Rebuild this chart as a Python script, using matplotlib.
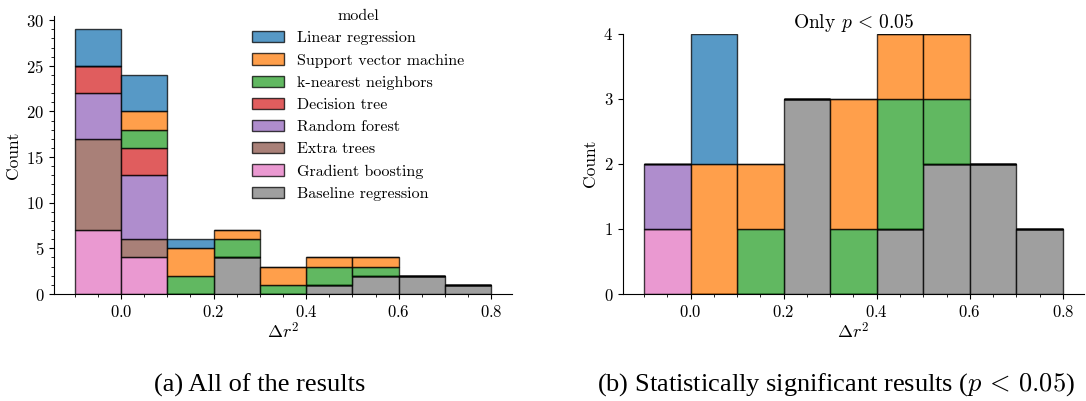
import numpy as np
import matplotlib
matplotlib.use("Agg")
import matplotlib.pyplot as plt
from matplotlib.ticker import MultipleLocator
from matplotlib.patches import Patch

plt.rcParams['font.family'] = ['cmr10', 'DejaVu Serif']
plt.rcParams['mathtext.fontset'] = 'cm'
plt.rcParams['axes.unicode_minus'] = False
plt.rcParams['axes.formatter.use_mathtext'] = True

# bins of delta r^2 (width 0.1)
bin_edges = [-0.1, 0.0, 0.1, 0.2, 0.3, 0.4, 0.5, 0.6, 0.7, 0.8]

models = ["Linear regression", "Support vector machine", "k-nearest neighbors",
          "Decision tree", "Random forest", "Extra trees", "Gradient boosting",
          "Baseline regression"]
colors = ["#1f77b4", "#ff7f0e", "#2ca02c", "#d62728", "#9467bd", "#8c564b",
          "#e377c2", "#7f7f7f"]

# counts per bin, all results
all_linear = [4, 4, 1, 0, 0, 0, 0, 0, 0]
all_svm = [0, 2, 3, 1, 2, 1, 1, 0, 0]
all_knn = [0, 2, 2, 2, 1, 2, 1, 0, 0]
all_tree = [3, 3, 0, 0, 0, 0, 0, 0, 0]
all_forest = [5, 7, 0, 0, 0, 0, 0, 0, 0]
all_extra = [10, 2, 0, 0, 0, 0, 0, 0, 0]
all_boost = [7, 4, 0, 0, 0, 0, 0, 0, 0]
all_base = [0, 0, 0, 4, 0, 1, 2, 2, 1]

# counts per bin, only p < 0.05
sig_linear = [0, 2, 0, 0, 0, 0, 0, 0, 0]
sig_svm = [0, 2, 1, 0, 2, 1, 1, 0, 0]
sig_knn = [0, 0, 1, 0, 1, 2, 1, 0, 0]
sig_tree = [0, 0, 0, 0, 0, 0, 0, 0, 0]
sig_forest = [1, 0, 0, 0, 0, 0, 0, 0, 0]
sig_extra = [0, 0, 0, 0, 0, 0, 0, 0, 0]
sig_boost = [1, 0, 0, 0, 0, 0, 0, 0, 0]
sig_base = [0, 0, 0, 3, 0, 1, 2, 2, 1]

all_counts = [all_linear, all_svm, all_knn, all_tree, all_forest, all_extra, all_boost, all_base]
sig_counts = [sig_linear, sig_svm, sig_knn, sig_tree, sig_forest, sig_extra, sig_boost, sig_base]


def stacked_hist(ax, counts):
    lefts = np.array(bin_edges[:-1])
    widths = np.diff(bin_edges)
    bottom = np.zeros(len(lefts))
    # last model sits at the bottom of the stack (seaborn style)
    for cnt, col in reversed(list(zip(counts, colors))):
        cnt = np.array(cnt, dtype=float)
        ax.bar(lefts, cnt, width=widths, bottom=bottom, align='edge',
               color=col, alpha=0.75, edgecolor='black', linewidth=1)
        bottom += cnt
    ax.spines['top'].set_visible(False)
    ax.spines['right'].set_visible(False)
    ax.set_xlabel(r'$\Delta r^2$', fontsize=13, labelpad=1)
    ax.set_ylabel('Count', fontsize=12.5)
    ax.xaxis.set_major_locator(MultipleLocator(0.2))
    ax.xaxis.set_minor_locator(MultipleLocator(0.05))
    ax.tick_params(labelsize=12)
    ax.tick_params(which='minor', length=2)


fig = plt.figure(figsize=(10.86, 4.01), dpi=100)
ax1 = fig.add_axes([0.0497, 0.2668, 0.4218, 0.6932])
ax2 = fig.add_axes([0.5737, 0.2668, 0.4243, 0.6494])

stacked_hist(ax1, all_counts)
ax1.yaxis.set_major_locator(MultipleLocator(5))
ax1.yaxis.set_minor_locator(MultipleLocator(1))

handles = [Patch(facecolor=c, alpha=0.75, edgecolor='black', linewidth=1) for c in colors]
ax1.legend(handles, models, title='model', frameon=False, loc='upper left',
           bbox_to_anchor=(0.401, 1.075), fontsize=11.5, title_fontsize=11.5,
           labelspacing=0.5, handlelength=2.0)

stacked_hist(ax2, sig_counts)
ax2.yaxis.set_major_locator(MultipleLocator(1))
ax2.set_title(r'Only $p\,<\,0.05$', fontsize=14, pad=4)

fig.text(0.239, 0.04, r'(a) All of the results', ha='center', va='center',
         family='Liberation Serif', fontsize=19, math_fontfamily='cm')
fig.text(0.770, 0.04, r'(b) Statistically significant results ($p\,<\,0.05$)',
         ha='center', va='center', family='Liberation Serif', fontsize=19,
         math_fontfamily='cm')

fig.savefig('out.png', dpi=100)
